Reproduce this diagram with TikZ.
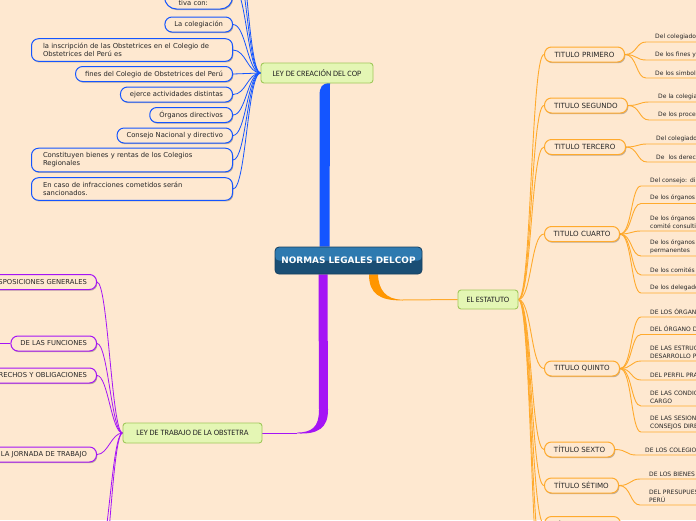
\documentclass[tikz,border=0pt]{standalone}
\usepackage{fontspec}
\setmainfont{DejaVu Sans}
\newfontfamily\carl{Carlito}
\usetikzlibrary{shadows}
\definecolor{bg}{RGB}{254,232,208}
\definecolor{blueC}{RGB}{20,85,255}
\definecolor{purpC}{RGB}{165,20,245}
\definecolor{orC}{RGB}{255,150,0}
\definecolor{orL}{RGB}{255,170,45}
\definecolor{grF}{RGB}{228,246,180}
\definecolor{grB}{RGB}{160,200,90}
\definecolor{txt}{RGB}{38,38,38}
\definecolor{nlight}{RGB}{46,122,176}
\definecolor{ndark}{RGB}{26,78,116}
\definecolor{nbord}{RGB}{22,64,96}
\pgfdeclarelayer{bglayer}
\pgfsetlayers{bglayer,main}
\tikzset{
  shad/.style={drop shadow={shadow xshift=0.8pt,shadow yshift=-1.2pt,opacity=0.25,fill=black}},
  topic/.style={line width=1pt, fill=bg, rounded corners=7pt, text=txt, minimum height=15pt, shad},
  bluebox/.style={topic, draw=blueC, inner xsep=9.5pt, inner ysep=3pt, font=\fontsize{6.8}{8}\selectfont},
  bluewide/.style={bluebox, text width=178pt, inner xsep=11.5pt, inner ysep=4.5pt, align=left},
  purpbox/.style={topic, draw=purpC, inner xsep=9.5pt, inner ysep=3pt, font=\fontsize{6.8}{8}\selectfont},
  titbox/.style={topic, draw=orL, inner xsep=5pt, inner ysep=3pt, font=\fontsize{7.1}{8}\selectfont, anchor=west},
  greenbox/.style={draw=grB, fill=grF, line width=0.9pt, rounded corners=3pt, text=txt, font=\carl\fontsize{8.2}{9}\selectfont, inner sep=0pt},
  central/.style={draw=nbord, fill=ndark, line width=0.8pt, rounded corners=4pt, text=white, font=\bfseries\fontsize{8.9}{10}\selectfont, inner sep=0pt,
    path picture={\fill[nlight] (path picture bounding box.north west) rectangle (path picture bounding box.east);}},
  sub/.style={anchor=south west, text width=120pt, inner xsep=9pt, inner ysep=2.5pt, align=left, text=txt, font=\fontsize{6}{7.5}\selectfont},
  bline/.style={draw=blueC, line width=0.8pt},
  pline/.style={draw=purpC, line width=0.8pt},
  oline/.style={draw=orL, line width=0.9pt},
}
\begin{document}
\begin{tikzpicture}[x=1pt,y=-1pt]
\useasboundingbox (0,0) rectangle (696,520);

% central and main branches
\node[central, minimum width=147pt, minimum height=27pt] (root) at (348.5,260.5) {NORMAS LEGALES DELCOP};
\node[greenbox, minimum width=112pt, minimum height=20pt] (cop) at (317,73) {LEY DE CREACIÓN DEL COP};
\node[greenbox, minimum width=139pt, minimum height=20pt] (trab) at (192.5,433) {LEY DE TRABAJO DE LA OBSTETRA};
\node[greenbox, minimum width=60pt, minimum height=19pt] (est) at (488,299.5) {EL ESTATUTO};

% blue children
\node[bluebox, anchor=south east, text width=40pt, inner xsep=14pt, rounded corners=12pt, align=left, text height=40pt, text depth=2pt, inner ysep=2pt] (b0) at (233,9.5) {tiva con:};
\node[bluebox, anchor=east] (b1) at (233,24.5) {La colegiación};
\node[bluewide, anchor=east] (b2) at (233,50) {la inscripción de las Obstetrices en el Colegio de\\Obstetrices del Perú es};
\node[bluebox, anchor=east] (b3) at (233,74) {fines del Colegio de Obstetrices del Perú};
\node[bluebox, anchor=east] (b4) at (233,94.5) {ejerce actividades distintas};
\node[bluebox, anchor=east] (b5) at (233,115) {Órganos directivos};
\node[bluebox, anchor=east] (b6) at (233,135.5) {Consejo Nacional y directivo};
\node[bluewide, anchor=east] (b7) at (233,160) {Constituyen bienes y rentas de los Colegios\\Regionales};
\node[bluewide, anchor=east] (b8) at (233,189) {En caso de infracciones cometidos serán\\sancionados.};
\coordinate (bx1) at (233,-45);
\coordinate (bx2) at (233,-80);

% purple children
\node[purpbox, anchor=east] (p1) at (97,282) {DISPOSICIONES GENERALES};
\node[purpbox, anchor=east] (p2) at (97,343.5) {DE LAS FUNCIONES};
\node[purpbox, anchor=east] (p3) at (97,375.5) {DE LOS DERECHOS Y OBLIGACIONES};
\node[purpbox, anchor=east] (p4) at (97,454.5) {DE LA JORNADA DE TRABAJO};
\coordinate (p2l) at (-20,343.5);
\coordinate (px1) at (97,565);
\coordinate (px2) at (97,610);

% titles
\node[titbox, minimum width=80pt] (t1) at (544,54.5) {TITULO PRIMERO};
\node[titbox, minimum width=83pt] (t2) at (544,105.5) {TITULO SEGUNDO};
\node[titbox, minimum width=81pt] (t3) at (544,147) {TITULO TERCERO};
\node[titbox, minimum width=75pt] (t4) at (544,234) {TITULO CUARTO};
\node[titbox, minimum width=75pt] (t5) at (544,368.5) {TITULO QUINTO};
\node[titbox, minimum width=70pt] (t6) at (544,449.5) {TÍTULO SEXTO};
\node[titbox, minimum width=74pt] (t7) at (544,485.5) {TÍTULO SÉTIMO};
\node[titbox, minimum width=76pt] (t8) at (544,524) {TÍTULO OCTAVO};
\coordinate (tx1) at (544,570);
\coordinate (tx2) at (544,610);

% sub items
\node[sub] (s11) at (646,42) {Del colegiado};
\node[sub] (s12) at (646,60) {De los fines y};
\node[sub] (s13) at (646,78) {De los simbolos};
\node[sub] (s21) at (649,102) {De la colegiación};
\node[sub] (s22) at (649,120) {De los procedimientos};
\node[sub] (s31) at (647,144) {Del colegiado};
\node[sub] (s32) at (647,162) {De\ \ los derechos};
\node[sub] (s41) at (641,186) {Del consejo: directivo};
\node[sub] (s42) at (641,203.5) {De los órganos};
\node[sub] (s43) at (641,231) {De los órganos\\comité consultivo};
\node[sub] (s44) at (641,256) {De los órganos\\permanentes};
\node[sub] (s45) at (641,275) {De los comités};
\node[sub] (s46) at (641,293) {De los delegados};
\node[sub] (s51) at (641,317) {DE LOS ÓRGANOS};
\node[sub] (s52) at (641,334.5) {DEL ÓRGANO DE};
\node[sub] (s53) at (641,361) {DE LAS ESTRUCTURAS\\DESARROLLO PROFESIONAL};
\node[sub] (s54) at (641,380) {DEL PERFIL PRA};
\node[sub] (s55) at (641,406) {DE LAS CONDICIONES\\CARGO};
\node[sub] (s56) at (641,432) {DE LAS SESIONES\\CONSEJOS DIRECTIVOS};
\node[sub] (s61) at (636,455) {DE LOS COLEGIOS};
\node[sub] (s71) at (640,479) {DE LOS BIENES};
\node[sub] (s72) at (640,505) {DEL PRESUPUESTO\\PERÚ};

\begin{pgfonlayer}{bglayer}
\fill[bg] (0,0) rectangle (696,520);
% trunks
\fill[blueC] ([xshift=-29pt]root.north) -- (319.5,96) .. controls (319.5,87) and (322,83) .. (330,83) -- ([xshift=-19pt]root.north) -- cycle;
\fill[purpC] ([xshift=-30pt]root.south) -- (319,410) .. controls (319,427) and (312,432.4) .. (297,432.6) -- (297,433.4) .. controls (318,434.5) and (328,428) .. (328,410) -- ([xshift=-21pt]root.south) -- cycle;
\draw[purpC, line width=1pt] (297,433) -- (trab.east);
\fill[orC] ([xshift=20.5pt]root.south) .. controls (369,294) and (380,300.6) .. (402,300.4) -- (402,299.6) .. controls (386,299.5) and (378.5,290) .. ([xshift=29.5pt]root.south) -- cycle;
\draw[orL, line width=1pt] (402,300) -- (est.west);
% blue connectors
\foreach \n in {b0,b1,b2,b3,b4,b5,b6,b7,b8}
  \draw[bline] (\n.east) .. controls +(13,0) and +(-13,0) .. (cop.west);
\draw[bline] (bx1) .. controls +(13,0) and +(-13,0) .. (cop.west);
\draw[bline] (bx2) .. controls +(13,0) and +(-13,0) .. (cop.west);
% purple connectors
\foreach \n in {p1,p2,p3,p4}
  \draw[pline] (\n.east) .. controls +(11,0) and +(-11,0) .. (trab.west);
\draw[pline] (px1) .. controls +(11,0) and +(-11,0) .. (trab.west);
\draw[pline] (px2) .. controls +(11,0) and +(-11,0) .. (trab.west);
\draw[pline] (p2.west) -- (p2l);
% orange connectors
\foreach \n in {t1,t2,t3,t4,t5,t6,t7,t8}
  \draw[oline] (est.east) .. controls +(13,0) and +(-13,0) .. (\n.west);
\draw[oline] (est.east) .. controls +(13,0) and +(-13,0) .. (tx1);
\draw[oline] (est.east) .. controls +(13,0) and +(-13,0) .. (tx2);
\foreach \t/\s in {t1/s11,t1/s12,t1/s13,t2/s21,t2/s22,t3/s31,t3/s32,t4/s41,t4/s42,t4/s43,t4/s44,t4/s45,t4/s46,t5/s51,t5/s52,t5/s53,t5/s54,t5/s55,t5/s56,t6/s61,t7/s71,t7/s72}
  \draw[oline] (\t.east) .. controls +(12,0) and +(-10,0) .. (\s.south west) -- (\s.south east);
\end{pgfonlayer}
\end{tikzpicture}
\end{document}
